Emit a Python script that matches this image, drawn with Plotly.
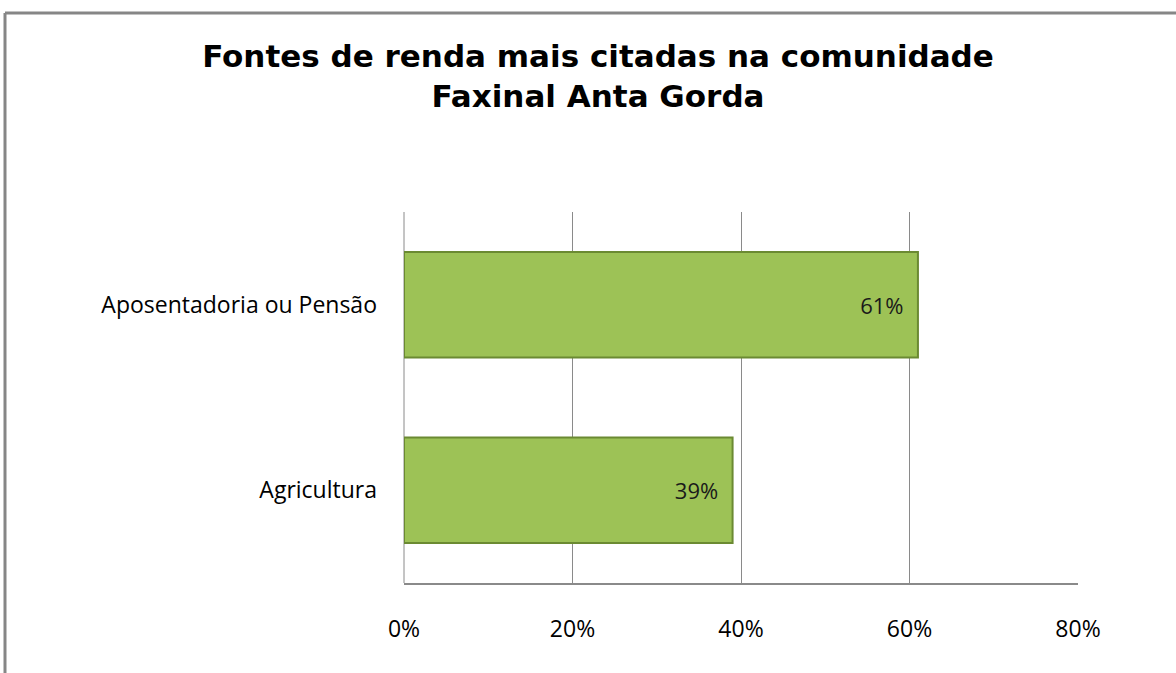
import plotly.graph_objects as go

categories = ["Agricultura", "Aposentadoria ou Pensão"]
values = [39, 61]
labels = ["39%", "61%"]
tick_vals = [0, 20, 40, 60, 80]
tick_text = ["0%", "20%", "40%", "60%", "80%"]

W, H = 1176, 673
L, R, T, B = 404, 1176 - 1078, 212, 673 - 583

TICK_FONT = "Open Sans, Lato, sans-serif"

fig = go.Figure()
fig.add_trace(go.Bar(
    y=categories, x=values, orientation="h",
    text=labels, textposition="inside", insidetextanchor="end",
    texttemplate="%{text}\u00a0\u00a0",
    textfont=dict(family=TICK_FONT, size=22, color="#1a1a1a"),
    marker=dict(color="#9dc256", line=dict(color="#6b8a32", width=2)),
    width=0.57,
))

def px2x(px):
    return (px - L) / (W - L - R)

def py2y(py):
    return (H - B - py) / (H - T - B)

fig.update_layout(
    width=W, height=H,
    margin=dict(l=L, r=R, t=T, b=B),
    paper_bgcolor="white", plot_bgcolor="white",
    showlegend=False,
    title=dict(
        text="Fontes de renda mais citadas na comunidade<br>Faxinal Anta Gorda",
        font=dict(family="DejaVu Sans, Liberation Sans, sans-serif", size=31, color="black", weight="bold"),
        x=598 / W, xanchor="center", xref="container",
        y=1 - 67 / H, yanchor="top", yref="container",
    ),
    xaxis=dict(
        range=[0, 80], tickvals=tick_vals, ticktext=tick_text,
        showgrid=True, gridcolor="#8a8a8a", gridwidth=1,
        showline=True, linecolor="#8a8a8a", linewidth=2,
        zeroline=False, ticks="", ticklabelstandoff=24,
        tickfont=dict(family=TICK_FONT, size=23, color="black"),
        fixedrange=True,
    ),
    yaxis=dict(
        showgrid=False, showline=False, zeroline=False, ticks="",
        ticklabelstandoff=26,
        tickfont=dict(family=TICK_FONT, size=23, color="black"),
        fixedrange=True,
    ),
    shapes=[
        dict(type="line", xref="paper", yref="paper",
             x0=px2x(5), x1=px2x(1180), y0=py2y(13), y1=py2y(13),
             line=dict(color="#868686", width=3)),
        dict(type="line", xref="paper", yref="paper",
             x0=px2x(5), x1=px2x(5), y0=py2y(13), y1=py2y(680),
             line=dict(color="#868686", width=3)),
        dict(type="line", xref="paper", yref="paper",
             x0=0, x1=0, y0=0, y1=1,
             line=dict(color="#8a8a8a", width=1), layer="below"),
    ],
)

fig.write_html("out.html")
